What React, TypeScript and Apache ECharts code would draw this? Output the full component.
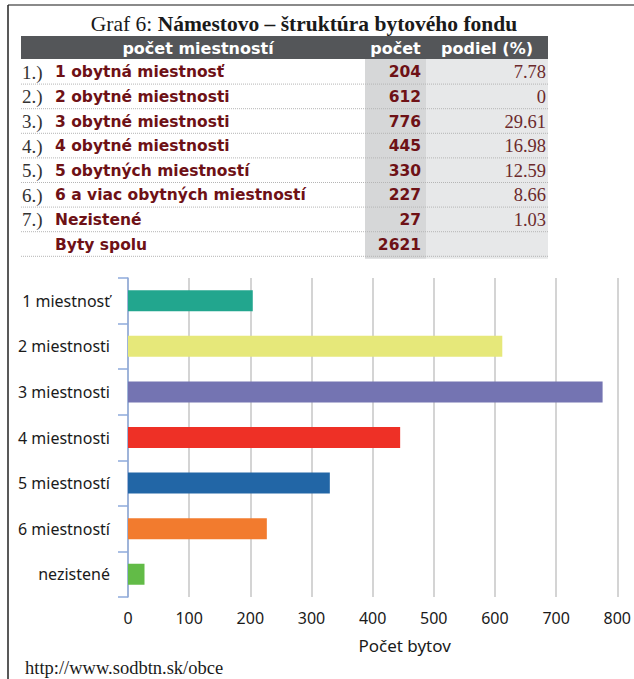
import React, { useEffect, useRef } from 'react';
import * as echarts from 'echarts';

const categories = ['1 miestnosť', '2 miestnosti', '3 miestnosti', '4 miestnosti', '5 miestností', '6 miestností', 'nezistené'];
const values = [204, 612, 776, 445, 330, 227, 27];
const barColors = ['#22a68e', '#e6e87a', '#7474b2', '#ee3026', '#2266a6', '#f27b2e', '#62bb47'];

const titleRegular = 'Graf 6: ';
const titleBold = 'Námestovo – štruktúra bytového fondu';
const headers = ['počet miestností', 'počet', 'podiel (%)'];
const rowPrefixes = ['1.)', '2.)', '3.)', '4.)', '5.)', '6.)', '7.)', ''];
const rowLabels = ['1 obytná miestnosť', '2 obytné miestnosti', '3 obytné miestnosti', '4 obytné miestnosti', '5 obytných miestností', '6 a viac obytných miestností', 'Nezistené', 'Byty spolu'];
const rowCounts = ['204', '612', '776', '445', '330', '227', '27', '2621'];
const rowShares = ['7.78', '0', '29.61', '16.98', '12.59', '8.66', '1.03', ''];
const xAxisName = 'Počet bytov';
const sourceText = 'http://www.sodbtn.sk/obce';

const DARK_RED = '#6e1116';
const TABLE_FONT = 'DejaVu Sans';
const SERIF = 'Liberation Serif';

function buildTable(): any[] {
  const els: any[] = [];
  const tableLeft = 21;
  const tableRight = 548;
  const col1 = 365;
  const col2 = 426;
  const headTop = 36;
  const headH = 23;
  const rowTop = 60;
  const rowH = 24.6;
  const tableBottom = rowTop + rowH * rowLabels.length + 2;

  // frame
  els.push({ type: 'line', shape: { x1: 8, y1: 5, x2: 634, y2: 5 }, style: { stroke: '#8a8a8a', lineWidth: 2 } });
  els.push({ type: 'line', shape: { x1: 8, y1: 5, x2: 8, y2: 679 }, style: { stroke: '#222', lineWidth: 1.5 } });

  // title
  els.push({
    type: 'text', x: 304, y: 24,
    style: {
      text: `{r|${titleRegular}}{b|${titleBold}}`,
      align: 'center', verticalAlign: 'middle',
      rich: {
        r: { fontFamily: SERIF, fontSize: 21.5, fill: '#1a1a1a' },
        b: { fontFamily: SERIF, fontSize: 21.5, fontWeight: 'bold', fill: '#1a1a1a' },
      },
    },
  });

  // column backgrounds
  els.push({ type: 'rect', shape: { x: col1, y: headTop + headH, width: col2 - col1, height: tableBottom - headTop - headH }, style: { fill: '#d6d7d8' } });
  els.push({ type: 'rect', shape: { x: col2, y: headTop + headH, width: tableRight - col2, height: tableBottom - headTop - headH }, style: { fill: '#e7e8e9' } });

  // header
  els.push({ type: 'rect', shape: { x: tableLeft, y: headTop, width: tableRight - tableLeft, height: headH }, style: { fill: '#545659' } });
  const headCenters = [(tableLeft + col1) / 2 + 5, (col1 + col2) / 2, (col2 + tableRight) / 2];
  headers.forEach((h, i) => {
    els.push({
      type: 'text', x: headCenters[i], y: headTop + headH / 2 + 0.5,
      style: { text: h, align: 'center', verticalAlign: 'middle', fontFamily: TABLE_FONT, fontWeight: 'bold', fontSize: 16, fill: '#ffffff' },
    });
  });

  // rows
  rowLabels.forEach((label, i) => {
    const cy = rowTop + rowH * i + rowH / 2;
    if (rowPrefixes[i]) {
      els.push({ type: 'text', x: 22, y: cy, style: { text: rowPrefixes[i], align: 'left', verticalAlign: 'middle', fontFamily: SERIF, fontSize: 19, fill: '#333' } });
    }
    els.push({ type: 'text', x: 55, y: cy, style: { text: label, align: 'left', verticalAlign: 'middle', fontFamily: TABLE_FONT, fontWeight: 'bold', fontSize: 15.5, fill: DARK_RED } });
    els.push({ type: 'text', x: 421, y: cy, style: { text: rowCounts[i], align: 'right', verticalAlign: 'middle', fontFamily: TABLE_FONT, fontWeight: 'bold', fontSize: 15.5, fill: DARK_RED } });
    if (rowShares[i]) {
      els.push({ type: 'text', x: 546, y: cy, style: { text: rowShares[i], align: 'right', verticalAlign: 'middle', fontFamily: SERIF, fontSize: 18.5, fill: '#6b2a2c' } });
    }
    const ly = rowTop + rowH * (i + 1) - 0.5;
    els.push({ type: 'line', shape: { x1: tableLeft, y1: ly, x2: tableRight, y2: ly }, style: { stroke: '#b5b5b5', lineWidth: 1, lineDash: [1, 1] } });
  });

  // source
  els.push({ type: 'text', x: 25, y: 668, style: { text: sourceText, align: 'left', verticalAlign: 'middle', fontFamily: SERIF, fontSize: 18.5, fill: '#1a1a1a' } });
  return els;
}

export default function App() {
  const ref = useRef<HTMLDivElement>(null);
  useEffect(() => {
    if (!ref.current) return;
    const chart = echarts.init(ref.current, null, { renderer: 'svg' });
    chart.setOption({
      animation: false,
      backgroundColor: '#ffffff',
      grid: { left: 128, top: 278, width: 492.7, height: 319, containLabel: false },
      xAxis: {
        type: 'value', min: 0, max: 800, interval: 100,
        axisLine: { show: false }, axisTick: { show: false },
        splitLine: { show: true, lineStyle: { color: '#d4d4d4', width: 2 } },
        axisLabel: { fontFamily: 'Noto Sans', fontSize: 16, color: '#1a1a1a', margin: 13 },
        name: xAxisName, nameLocation: 'middle', nameGap: 40,
        nameTextStyle: { fontFamily: 'Noto Sans', fontSize: 17, color: '#1a1a1a', padding: [0, 0, 0, 64] },
      },
      yAxis: {
        type: 'category', data: categories, inverse: true,
        axisLine: { show: true, lineStyle: { color: '#8eaadb', width: 1.5 } },
        axisTick: { show: true, length: 10, lineStyle: { color: '#8eaadb', width: 1.5 } },
        axisLabel: { fontFamily: 'Noto Sans', fontSize: 16, color: '#1a1a1a', margin: 18 },
        splitLine: { show: false },
      },
      series: [{
        type: 'bar',
        data: values.map((v, i) => ({ value: v, itemStyle: { color: barColors[i] } })),
        barWidth: 21,
      }],
      graphic: { elements: buildTable() },
    });
    return () => chart.dispose();
  }, []);
  return <div ref={ref} style={{ position: 'absolute', left: 0, top: 0, width: 634, height: 679 }} />;
}
